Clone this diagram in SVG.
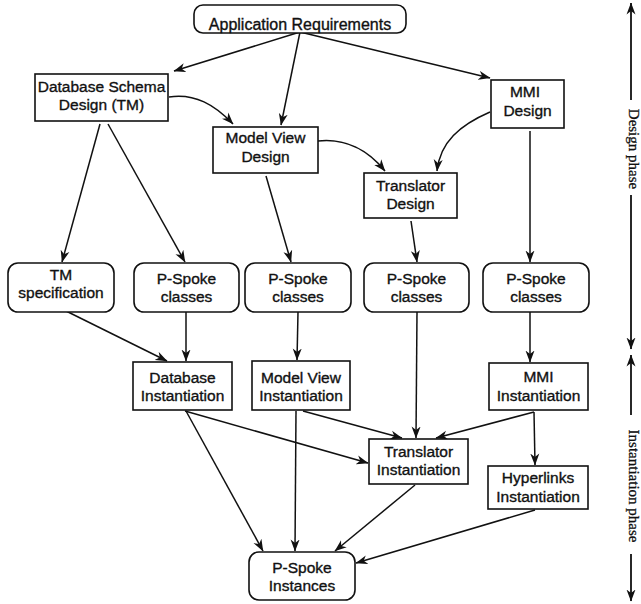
<svg xmlns="http://www.w3.org/2000/svg" width="641" height="604" viewBox="0 0 641 604">
<style>
  .box{fill:#fff;stroke:#111;stroke-width:1.6}
  .t{font-family:"Liberation Sans",Arial,sans-serif;font-size:15.5px;fill:#111;stroke:#111;stroke-width:0.35;text-anchor:middle}
  .side{font-family:"Liberation Serif","Times New Roman",serif;font-size:15px;fill:#111;stroke:#111;stroke-width:0.3;text-anchor:middle}
  .c{fill:none;stroke:#111;stroke-width:1.5;marker-end:url(#ah)}
  .s{fill:none;stroke:#111;stroke-width:1.8;marker-end:url(#ah)}
</style>
<defs>
  <marker id="ah" viewBox="0 0 12 10" refX="11.5" refY="5" markerWidth="12" markerHeight="10" markerUnits="userSpaceOnUse" orient="auto">
    <path d="M0,0.5 L12,5 L0,9.5 L3.5,5 z" fill="#111"/>
  </marker>
</defs>
<rect width="641" height="604" fill="#fff"/>

<g id="connectors">
  <path class="c" d="M300,32 L174,71"/>
  <path class="c" d="M300,32 L281,125"/>
  <path class="c" d="M300,32 L490,78"/>
  <path class="c" d="M169,97 C195,93 215,105 233,124"/>
  <path class="c" d="M318,141 C345,138 368,150 385,171"/>
  <path class="c" d="M490,112 C460,125 440,142 437,171"/>
  <path class="c" d="M100,124 L62,262"/>
  <path class="c" d="M108,124 L185,262"/>
  <path class="c" d="M266,176 L291,262"/>
  <path class="c" d="M411,221 L417,262"/>
  <path class="c" d="M530,131 L530,262"/>
  <path class="c" d="M62,309 L167,361"/>
  <path class="c" d="M186,312 L186,361"/>
  <path class="c" d="M298,312 L297,360"/>
  <path class="c" d="M417,312 L416,438"/>
  <path class="c" d="M530,312 L530,362"/>
  <path class="c" d="M185,411 L368,463"/>
  <path class="c" d="M186,411 L263,551"/>
  <path class="c" d="M303,411 L402,438"/>
  <path class="c" d="M296,411 L295,551"/>
  <path class="c" d="M534,412 L436,438"/>
  <path class="c" d="M534,412 L535,465"/>
  <path class="c" d="M415,485 L335,551"/>
  <path class="c" d="M535,510 L356,563"/>
</g>

<g id="phase-axis">
  <path class="s" d="M631,100 L631,3"/>
  <path class="s" d="M631,195 L631,349"/>
  <path class="s" d="M631,415 L631,355"/>
  <path class="s" d="M631,554 L631,601"/>
  <text class="side" transform="translate(628.5,149) rotate(90)">Design phase</text>
  <text class="side" transform="translate(628.5,486) rotate(90)">Instantiation phase</text>
</g>

<g id="app-req">
  <rect class="box" x="194" y="5" width="212" height="28" rx="9"/>
  <text class="t" x="300" y="29.5" style="font-size:16px">Application Requirements</text>
</g>
<g id="db-schema">
  <rect class="box" x="35" y="74" width="133" height="47"/>
  <text class="t" x="101.5" y="92">Database Schema</text>
  <text class="t" x="101.5" y="110">Design (TM)</text>
</g>
<g id="mv-design">
  <rect class="box" x="213" y="127" width="105" height="46"/>
  <text class="t" x="265.5" y="143">Model View</text>
  <text class="t" x="265.5" y="162">Design</text>
</g>
<g id="mmi-design">
  <rect class="box" x="491" y="80" width="73" height="48"/>
  <text class="t" x="525" y="97">MMI</text>
  <text class="t" x="527.5" y="116">Design</text>
</g>
<g id="tr-design">
  <rect class="box" x="364" y="173" width="93" height="45"/>
  <text class="t" x="410.5" y="191">Translator</text>
  <text class="t" x="410.5" y="209">Design</text>
</g>

<g id="tm-spec">
  <rect class="box" x="8" y="263" width="106" height="49" rx="10"/>
  <text class="t" x="61" y="280">TM</text>
  <text class="t" x="61" y="298">specification</text>
</g>
<g id="ps-classes-1">
  <rect class="box" x="134" y="263" width="105" height="49" rx="10"/>
  <text class="t" x="186.5" y="284">P-Spoke</text>
  <text class="t" x="186.5" y="302">classes</text>
</g>
<g id="ps-classes-2">
  <rect class="box" x="245" y="263" width="106" height="49" rx="10"/>
  <text class="t" x="298" y="284">P-Spoke</text>
  <text class="t" x="298" y="302">classes</text>
</g>
<g id="ps-classes-3">
  <rect class="box" x="364" y="263" width="105" height="49" rx="10"/>
  <text class="t" x="416.5" y="284">P-Spoke</text>
  <text class="t" x="416.5" y="302">classes</text>
</g>
<g id="ps-classes-4">
  <rect class="box" x="483" y="263" width="106" height="49" rx="10"/>
  <text class="t" x="536" y="284">P-Spoke</text>
  <text class="t" x="536" y="302">classes</text>
</g>

<g id="db-inst">
  <rect class="box" x="133" y="362" width="99" height="48"/>
  <text class="t" x="182.5" y="383">Database</text>
  <text class="t" x="182.5" y="401">Instantiation</text>
</g>
<g id="mv-inst">
  <rect class="box" x="252" y="361" width="98" height="49"/>
  <text class="t" x="301" y="383">Model View</text>
  <text class="t" x="301" y="401">Instantiation</text>
</g>
<g id="mmi-inst">
  <rect class="box" x="489" y="363" width="99" height="47"/>
  <text class="t" x="538.5" y="382">MMI</text>
  <text class="t" x="538.5" y="401">Instantiation</text>
</g>
<g id="tr-inst">
  <rect class="box" x="369" y="439" width="99" height="45"/>
  <text class="t" x="418.5" y="457">Translator</text>
  <text class="t" x="418.5" y="475">Instantiation</text>
</g>
<g id="hl-inst">
  <rect class="box" x="488" y="466" width="100" height="43"/>
  <text class="t" x="538" y="483">Hyperlinks</text>
  <text class="t" x="538" y="502">Instantiation</text>
</g>
<g id="ps-instances">
  <rect class="box" x="249" y="552" width="106" height="48" rx="10"/>
  <text class="t" x="302" y="573">P-Spoke</text>
  <text class="t" x="302" y="591">Instances</text>
</g>
</svg>
